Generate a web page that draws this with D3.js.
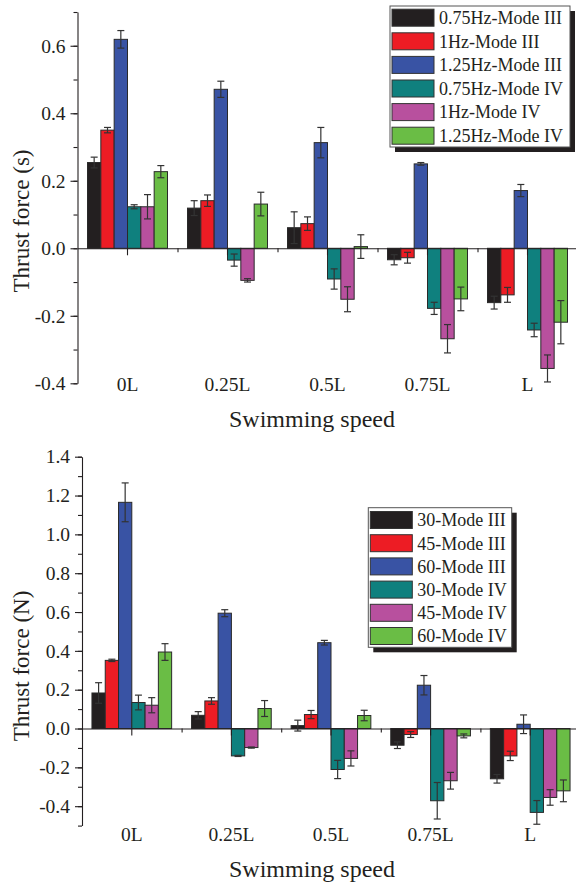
<!DOCTYPE html>
<html>
<head>
<meta charset="utf-8">
<script src="https://cdn.jsdelivr.net/npm/d3@7"></script>
<style>
  body { margin: 0; background: #fff; }
  svg { display: block; font-family: "Liberation Serif", "Times New Roman", serif; }
  svg text { font-family: "Liberation Serif", "Times New Roman", serif; }
</style>
</head>
<body>
<div id="chart"></div>
<script>
// categories on the x axis
const categories = ["0L", "0.25L", "0.5L", "0.75L", "L"];

// top panel: frequency
const freqSeries = ["0.75Hz-Mode III", "1Hz-Mode III", "1.25Hz-Mode III", "0.75Hz-Mode IV", "1Hz-Mode IV", "1.25Hz-Mode IV"];
const freqValues = [
  [0.254, 0.119, 0.061, -0.034, -0.161],
  [0.350, 0.141, 0.073, -0.028, -0.138],
  [0.619, 0.471, 0.313, 0.250, 0.171],
  [0.123, -0.035, -0.091, -0.178, -0.242],
  [0.123, -0.095, -0.151, -0.268, -0.356],
  [0.227, 0.131, 0.005, -0.150, -0.219]
];
const freqErrors = [
  [0.016, 0.022, 0.047, 0.015, 0.019],
  [0.008, 0.017, 0.020, 0.016, 0.022],
  [0.026, 0.024, 0.045, 0.004, 0.018],
  [0.006, 0.018, 0.030, 0.018, 0.020],
  [0.036, 0.005, 0.037, 0.042, 0.040],
  [0.018, 0.035, 0.035, 0.035, 0.064]
];
const freqMajorTicks = [-0.4, -0.2, 0.0, 0.2, 0.4, 0.6];

// bottom panel: amplitude angle
const angleSeries = ["30-Mode III", "45-Mode III", "60-Mode III", "30-Mode IV", "45-Mode IV", "60-Mode IV"];
const angleValues = [
  [0.183, 0.068, 0.015, -0.086, -0.259],
  [0.351, 0.142, 0.072, -0.031, -0.141],
  [1.165, 0.594, 0.442, 0.223, 0.022],
  [0.134, -0.141, -0.211, -0.372, -0.432],
  [0.120, -0.098, -0.154, -0.269, -0.355],
  [0.394, 0.103, 0.067, -0.038, -0.321]
];
const angleErrors = [
  [0.053, 0.019, 0.028, 0.017, 0.022],
  [0.006, 0.017, 0.021, 0.015, 0.024],
  [0.100, 0.018, 0.012, 0.050, 0.048],
  [0.038, 0.003, 0.047, 0.094, 0.061],
  [0.039, 0.003, 0.039, 0.043, 0.040],
  [0.043, 0.041, 0.027, 0.010, 0.056]
];
const angleMajorTicks = [-0.4, -0.2, 0.0, 0.2, 0.4, 0.6, 0.8, 1.0, 1.2, 1.4];

const colors = ["#231f20", "#ed1c24", "#3953a4", "#0f807e", "#b8509e", "#6abd45"];

const width = 576, height = 883;

const svg = d3.select("#chart").append("svg")
  .attr("width", width)
  .attr("height", height);

const fmt = v => d3.format(".1f")(v).replace("\u2212", "-");

function drawPanel(cfg) {
  const g = svg.append("g");

  const x = d3.scaleBand().domain(categories)
    .range([cfg.left, cfg.right]).paddingInner(0.2).paddingOuter(0.1);
  const xs = d3.scaleBand().domain(d3.range(cfg.series.length))
    .range([0, x.bandwidth()]);
  const y = d3.scaleLinear().domain(cfg.domain).range([cfg.bottom, cfg.top]);

  // minor y ticks
  g.append("g")
    .attr("transform", `translate(${cfg.left},0)`)
    .call(d3.axisLeft(y).tickValues(d3.range(cfg.domain[0], cfg.domain[1] + 0.001, 0.1)).tickSize(4).tickFormat(""))
    .call(a => a.select(".domain").remove());

  // major y axis
  g.append("g")
    .attr("transform", `translate(${cfg.left},0)`)
    .call(d3.axisLeft(y).tickValues(cfg.majorTicks).tickSize(7).tickSizeOuter(0).tickPadding(5).tickFormat(fmt))
    .call(a => a.selectAll("text").attr("font-size", 19.5).attr("fill", "#231f20"));

  // bars
  const rows = [];
  cfg.series.forEach((s, si) => {
    categories.forEach((c, ci) => {
      rows.push({ si, c, v: cfg.values[si][ci], e: cfg.errors[si][ci] });
    });
  });

  g.append("g").selectAll("rect")
    .data(rows)
    .join("rect")
    .attr("x", d => x(d.c) + xs(d.si))
    .attr("width", xs.bandwidth())
    .attr("y", d => y(Math.max(0, d.v)))
    .attr("height", d => Math.abs(y(d.v) - y(0)))
    .attr("fill", d => colors[d.si])
    .attr("stroke", "#2a2a2a")
    .attr("stroke-width", 1);

  // error bars
  const eb = g.append("g").attr("stroke", "#333").attr("stroke-width", 1.2)
    .selectAll("g").data(rows).join("g")
    .attr("transform", d => `translate(${x(d.c) + xs(d.si) + xs.bandwidth() / 2},0)`);
  eb.append("line").attr("y1", d => y(d.v + d.e)).attr("y2", d => y(d.v - d.e));
  eb.append("line").attr("x1", -3.5).attr("x2", 3.5).attr("y1", d => y(d.v + d.e)).attr("y2", d => y(d.v + d.e));
  eb.append("line").attr("x1", -3.5).attr("x2", 3.5).attr("y1", d => y(d.v - d.e)).attr("y2", d => y(d.v - d.e));

  // zero line with ticks at category centres
  g.append("g")
    .attr("transform", `translate(0,${y(0)})`)
    .call(d3.axisBottom(x).tickSize(7).tickSizeOuter(0).tickFormat(""));

  // minor x ticks between categories
  const step = x.step();
  const xb = d3.scaleLinear().domain([0, categories.length])
    .range([x(categories[0]) - step * 0.1, x(categories[0]) - step * 0.1 + step * categories.length]);
  g.append("g")
    .attr("transform", `translate(0,${y(0)})`)
    .call(d3.axisBottom(xb).tickValues(d3.range(1, categories.length)).tickSize(4).tickFormat(""))
    .call(a => a.select(".domain").remove());

  g.selectAll(".tick line, .domain").attr("stroke", "#231f20").attr("stroke-width", 1.1);

  // category labels along the bottom
  g.append("g")
    .attr("transform", `translate(0,${cfg.labelY})`)
    .call(d3.axisBottom(x).tickSize(0).tickPadding(0))
    .call(a => a.select(".domain").remove())
    .call(a => a.selectAll("text").attr("font-size", 19.5).attr("fill", "#231f20").attr("dy", 0));

  // axis titles
  g.append("text")
    .attr("x", 312).attr("y", cfg.titleY)
    .attr("text-anchor", "middle").attr("font-size", 24).attr("fill", "#231f20")
    .text("Swimming speed");
  g.append("text")
    .attr("transform", `translate(29,${cfg.yTitleY}) rotate(-90)`)
    .attr("text-anchor", "middle").attr("font-size", 23).attr("fill", "#231f20")
    .text(cfg.yTitle);

  // legend
  const lg = cfg.legend;
  const leg = g.append("g").attr("transform", `translate(${lg.x},${lg.y})`);
  leg.append("rect").attr("x", 5).attr("y", 5).attr("width", lg.w).attr("height", lg.h).attr("fill", "#231f20");
  leg.append("rect").attr("width", lg.w).attr("height", lg.h).attr("fill", "#fff").attr("stroke", "#555").attr("stroke-width", 1);
  const item = leg.selectAll("g.item").data(cfg.series).join("g")
    .attr("class", "item")
    .attr("transform", (d, i) => `translate(2,${lg.first + i * lg.gap})`);
  item.append("rect").attr("y", -8.5).attr("width", 42).attr("height", 17)
    .attr("fill", (d, i) => colors[i]).attr("stroke", "#333").attr("stroke-width", 1);
  item.append("text").attr("x", 47).attr("dy", "0.35em")
    .attr("font-size", 18).attr("fill", "#231f20").text(d => d);
}

drawPanel({
  series: freqSeries, values: freqValues, errors: freqErrors, majorTicks: freqMajorTicks,
  domain: [-0.4, 0.7], left: 77.5, right: 577.5, top: 12, bottom: 383.3,
  labelY: 391, titleY: 427, yTitleY: 221, yTitle: "Thrust force (s)",
  legend: { x: 390, y: 6, w: 180, h: 141, first: 11.7, gap: 23.6 }
});

drawPanel({
  series: angleSeries, values: angleValues, errors: angleErrors, majorTicks: angleMajorTicks,
  domain: [-0.5, 1.4], left: 82, right: 580, top: 456.7, bottom: 825.6,
  labelY: 841, titleY: 877, yTitleY: 666, yTitle: "Thrust force (N)",
  legend: { x: 368.3, y: 507.7, w: 143.4, h: 139.6, first: 12.3, gap: 23.2 }
});
</script>
</body>
</html>
